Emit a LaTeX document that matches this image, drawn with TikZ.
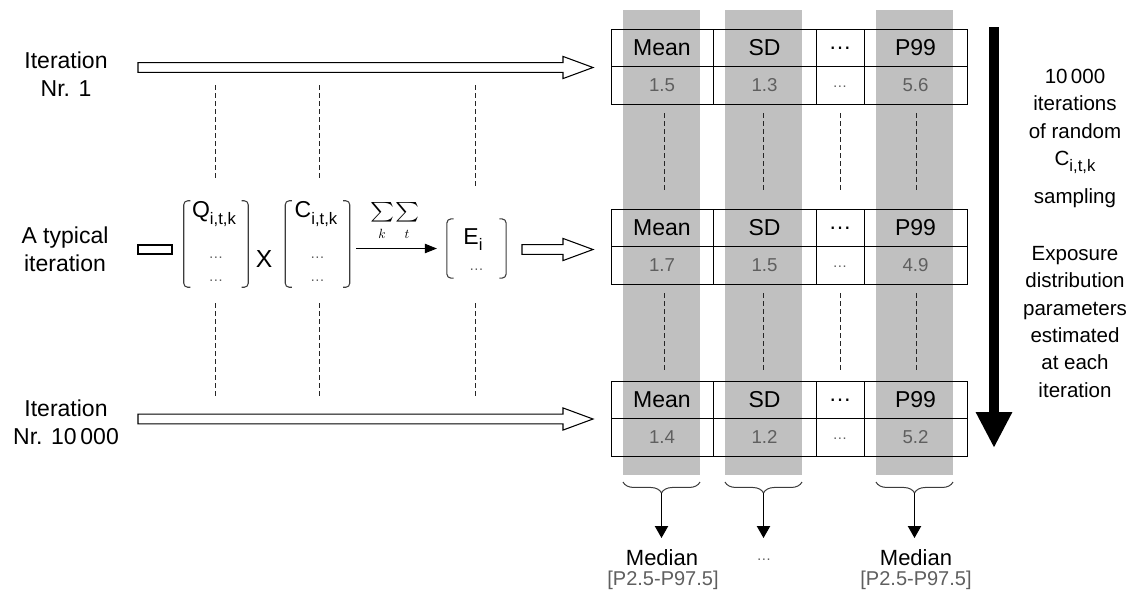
\documentclass[tikz,border=0pt]{standalone}
\usepackage{fontspec}
\usepackage{graphicx}
\setmainfont{Liberation Sans}
\usetikzlibrary{arrows.meta,calc,decorations.pathreplacing}

\definecolor{bandgray}{RGB}{192,192,192}
\definecolor{numgray}{RGB}{95,95,95}
\definecolor{brackgray}{RGB}{60,60,60}

% lowered index, e.g. Q_{i,t,k}
\newcommand{\idx}[1]{\raisebox{-0.5ex}{\fontsize{12.5}{12.5}\selectfont #1}}
% hollow block arrow between two named coordinates
\newcommand{\fatarrow}[2]{%
  \draw[fat] let \p1=(#1), \p2=(#2) in
    (\x1,\y1+3.6pt) -- (\x2-22.5pt,\y1+3.6pt) -- (\x2-22.5pt,\y1+8.3pt)
    -- (\x2,\y1) -- (\x2-22.5pt,\y1-8.3pt) -- (\x2-22.5pt,\y1-3.6pt)
    -- (\x1,\y1-3.6pt) -- cycle;}
% rounded brackets round a matrix node
\newcommand{\mbrack}[1]{%
  \draw[brk] ([xshift=5pt]#1.north west) -- (#1.north west) -- (#1.south west) -- ([xshift=5pt]#1.south west);
  \draw[brk] ([xshift=-5pt]#1.north east) -- (#1.north east) -- (#1.south east) -- ([xshift=-5pt]#1.south east);}

\begin{document}
\begin{tikzpicture}[x=0.75pt,y=-0.75pt,
  lbl/.style={align=center,font=\fontsize{17.25}{21}\selectfont,inner sep=0pt},
  rtxt/.style={align=center,font=\fontsize{15.4}{20.6}\selectfont,inner sep=0pt},
  hdr/.style={font=\fontsize{17.25}{20}\selectfont,inner sep=0pt},
  num/.style={font=\fontsize{14}{16}\selectfont,text=numgray,inner sep=0pt},
  dotsg/.style={font=\fontsize{11}{12}\selectfont,text=numgray,inner sep=0pt},
  fat/.style={draw=black,fill=white,line width=0.8pt},
  brk/.style={draw=brackgray,line width=0.8pt,rounded corners=3pt},
  mat/.style={inner sep=0pt,minimum width=48pt,minimum height=64.5pt},
  dashline/.style={draw=black!85,line width=0.7pt,dash pattern=on 3.5pt off 2.5pt},
  downarr/.style={-{Triangle[length=9pt,width=10pt]},line width=0.75pt},
  bracelow/.style={decorate,decoration={brace,mirror,amplitude=8.2pt},draw=brackgray,line width=0.75pt}]
\useasboundingbox (0,0) rectangle (1142,601);

% grey bands behind the parameter columns
\foreach \bx in {623,725,876}
  \fill[bandgray] (\bx,10) rectangle (\bx+77,475);

% one small table per iteration
\foreach \n/\ya/\va/\vb/\vc in {1/29/1.5/1.3/5.6,2/209/1.7/1.5/4.9,3/381/1.4/1.2/5.2}{
  \draw[line width=0.75pt] (611,\ya) rectangle (967,\ya+75) (611,\ya+37.5) -- (967,\ya+37.5);
  \foreach \cx in {713,816,864}
    \draw[line width=0.75pt] (\cx,\ya) -- (\cx,\ya+75);
  \node[hdr] (mean\n) at (662,\ya+19) {Mean};
  \node[hdr] (sd\n) at (764.5,\ya+19) {SD};
  \node[hdr] (etc\n) at (840,\ya+19) {\ldots};
  \node[hdr] (pnn\n) at (915.5,\ya+19) {P99};
  \node[num] (vmean\n) at (662,\ya+56) {\va};
  \node[num] (vsd\n) at (764.5,\ya+56) {\vb};
  \node[dotsg] (vetc\n) at (840,\ya+58) {\ldots};
  \node[num] (vpnn\n) at (915.5,\ya+56) {\vc};
}
\foreach \x in {664,763,840,916}
  \draw[dashline] (\x,113) -- (\x,190) (\x,293) -- (\x,370);

% iteration labels
\node[lbl] (it1) at (66,74) {Iteration\\Nr. 1};
\node[lbl] (ittyp) at (65,249.5) {A typical\\iteration};
\node[lbl] (itN) at (66,422.5) {Iteration\\Nr. 10\,000};

\coordinate (a1s) at (138,67.5);
\coordinate (a1e) at (593,67.5);
\coordinate (a2s) at (522,249.5);
\coordinate (a2e) at (593,249.5);
\coordinate (a3s) at (138,419);
\coordinate (a3e) at (593,419);
\fatarrow{a1s}{a1e}
\fatarrow{a2s}{a2e}
\fatarrow{a3s}{a3e}
\draw[fat] (138,245) rectangle (172,254);

% matrices of a typical iteration
\node[mat] (matQ) at (216,244) {};
\node[mat] (matC) at (317.5,244) {};
\node[mat,minimum width=44pt,minimum height=44pt] (matE) at (476.5,248.5) {};
\mbrack{matQ}
\mbrack{matC}
\mbrack{matE}
\node[lbl] (q) at (214,214) {Q\idx{i,t,k}};
\node[dotsg] (qd1) at (216,258) {\ldots};
\node[dotsg] (qd2) at (216,281) {\ldots};
\node[font=\fontsize{18.5}{20}\selectfont,inner sep=0pt] (times) at (264,259) {X};
\node[lbl] (c) at (316,214) {C\idx{i,t,k}};
\node[dotsg] (cd1) at (317.5,258) {\ldots};
\node[dotsg] (cd2) at (317.5,281) {\ldots};
\node[lbl] (e) at (473,240) {E\idx{i}};
\node[dotsg] (ed1) at (476.5,270) {\ldots};

\node[inner sep=0pt] (sumk) at (382,212) {\resizebox{18pt}{11pt}{$\sum$}};
\node[inner sep=0pt] (sumt) at (407,212) {\resizebox{18pt}{11pt}{$\sum$}};
\node[inner sep=0pt] (k) at (382,234) {$k$};
\node[inner sep=0pt] (t) at (407,234) {$t$};
\draw[-{Triangle[length=9pt,width=7pt]},line width=0.75pt]
  ($(matC.east |- matE.west)+(5pt,0)$) -- ($(matE.west)+(-7.5pt,0)$);

\foreach \x/\b in {215/178,319/178,475/187}
  \draw[dashline] (\x,85) -- (\x,\b) (\x,303) -- (\x,397);

% big arrow and its comments
\coordinate (btop) at (994,27);
\coordinate (bend) at (994,448);
\draw[line width=7.5pt,-{Triangle[length=27pt,width=25.5pt]}] (btop) -- (bend);
\node[rtxt,anchor=north] (rtop) at (1075,68.7)
  {10\,000\\iterations\\of random\\C\idx{i,t,k}\\[8pt]sampling};
\node[rtxt,anchor=north] (rbot) at (1075,245.7)
  {Exposure\\distribution\\parameters\\estimated\\at each\\iteration};

% summary over all iterations
\draw[bracelow] (623,482) -- (700,482);
\draw[bracelow] (725,482) -- (802,482);
\draw[bracelow] (876,482) -- (953,482);
\coordinate (bt1) at (661.5,493);
\coordinate (bt2) at (763.5,493);
\coordinate (bt3) at (914.5,493);
\node[hdr,font=\fontsize{16.5}{18}\selectfont] (med1) at (662,558) {Median};
\node[num,font=\fontsize{15}{17}\selectfont] (rng1) at (663,580) {[P2.5-P97.5]};
\node[dotsg] (sdd) at (764,560) {\ldots};
\node[hdr,font=\fontsize{16.5}{18}\selectfont] (med3) at (916,558) {Median};
\node[num,font=\fontsize{15}{17}\selectfont] (rng3) at (916,580) {[P2.5-P97.5]};
\coordinate (e1) at (661.5,538);
\coordinate (e2) at (763.5,538);
\coordinate (e3) at (914.5,538);
\draw[downarr] (bt1) -- (e1);
\draw[downarr] (bt2) -- (e2);
\draw[downarr] (bt3) -- (e3);
\end{tikzpicture}
\end{document}
